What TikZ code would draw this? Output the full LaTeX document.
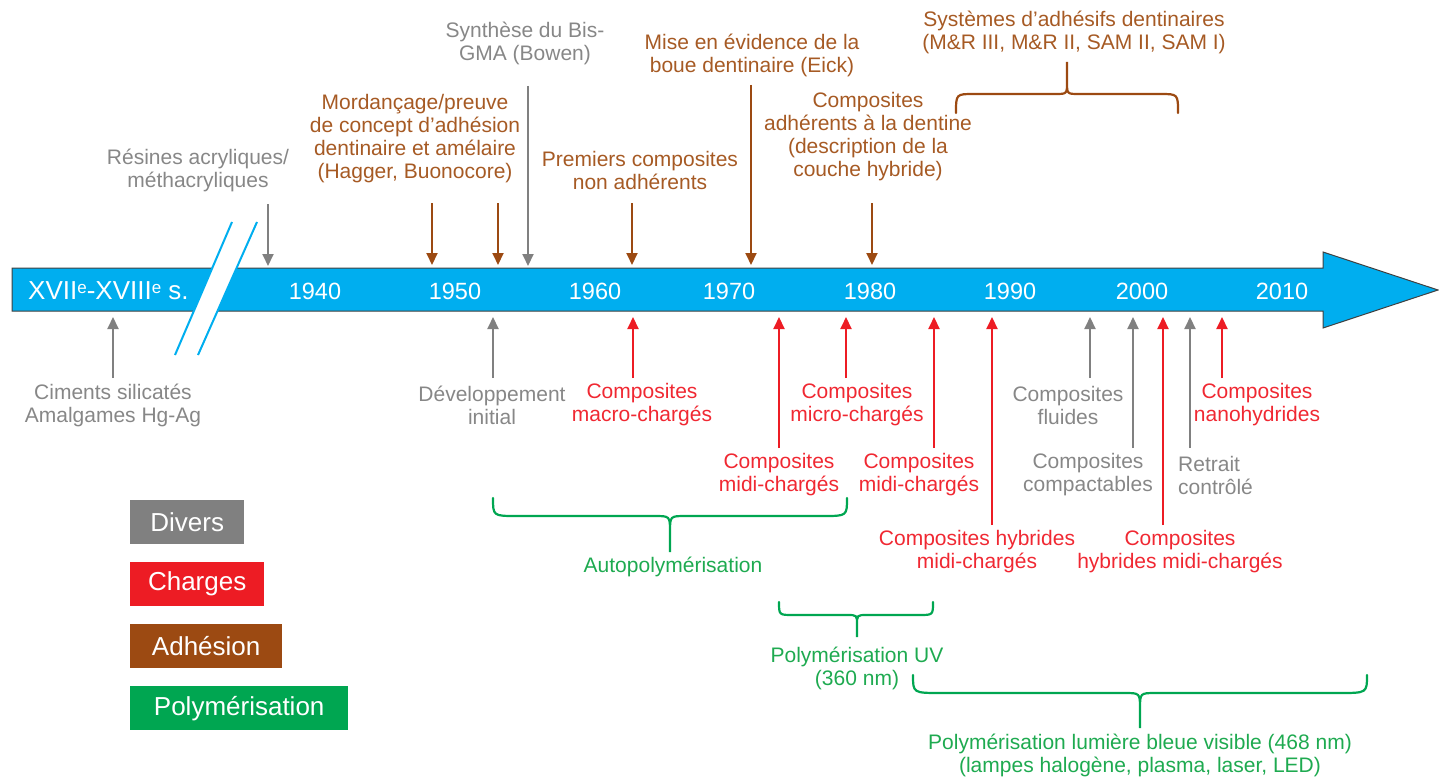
\documentclass[tikz,border=0pt]{standalone}
\usepackage{fontspec}
\setmainfont{Liberation Sans}
\usetikzlibrary{arrows.meta}
\definecolor{band}{RGB}{0,174,239}
\definecolor{cgray}{RGB}{128,128,128}
\definecolor{cred}{RGB}{237,28,36}
\definecolor{cbrown}{RGB}{156,74,18}
\definecolor{cgreen}{RGB}{0,166,81}
\definecolor{tgray}{RGB}{135,135,135}
\definecolor{tred}{RGB}{240,40,50}
\definecolor{tbrown}{RGB}{166,90,36}
\definecolor{tgreen}{RGB}{30,170,80}
\begin{document}
\begin{tikzpicture}[x=1pt,y=-1pt,
 lab/.style={font=\fontsize{21}{23}\selectfont, align=center, inner sep=0pt},
 yearlab/.style={font=\fontsize{23.5}{26}\selectfont, text=white, inner sep=0pt},
 arr/.style={line width=2pt, -{Triangle[length=12pt,width=11pt]}},
 bracepath/.style={line width=2.2pt, line cap=round},
 legbox/.style={font=\fontsize{26}{30}\selectfont, text=white, minimum height=44pt, inner sep=0pt, anchor=north west},
]
\useasboundingbox (0,0) rectangle (1439,778);

% timeline band
\draw[fill=band, draw=black!75, line width=1pt] (12,268) -- (1323,268) -- (1323,252) -- (1438,290) -- (1323,328) -- (1323,311) -- (12,311) -- cycle;
% break marks
\fill[white] (232,222) -- (257,222) -- (198,355) -- (175,355) -- cycle;
\draw[band, line width=2pt] (232,222) -- (175,355);
\draw[band, line width=2pt] (257,222) -- (198,355);

% years
\node[yearlab, anchor=west, font=\fontsize{26}{28}\selectfont] (yXVII) at (28,291) {XVII\raisebox{0.45ex}{\fontsize{17}{17}\selectfont e}-XVIII\raisebox{0.45ex}{\fontsize{17}{17}\selectfont e} s.};
\node[yearlab] (y1940) at (315,291) {1940};
\node[yearlab] (y1950) at (455,291) {1950};
\node[yearlab] (y1960) at (595,291) {1960};
\node[yearlab] (y1970) at (729,291) {1970};
\node[yearlab] (y1980) at (870,291) {1980};
\node[yearlab] (y1990) at (1010,291) {1990};
\node[yearlab] (y2000) at (1142,291) {2000};
\node[yearlab] (y2010) at (1282,291) {2010};

% top labels
\node[lab, text=tgray] (lResines) at (198,170) {Résines acryliques/\\méthacryliques};
\node[lab, text=tbrown] (lMord) at (415,139) {Mordançage/preuve\\de concept d’adhésion\\dentinaire et amélaire\\(Hagger, Buonocore)};
\node[lab, text=tgray] (lBis) at (525,43) {Synthèse du Bis-\\GMA (Bowen)};
\node[lab, text=tbrown] (lPrem) at (640,170) {Premiers composites\\non adhérents};
\node[lab, text=tbrown] (lEick) at (752,55) {Mise en évidence de la\\boue dentinaire (Eick)};
\node[lab, text=tbrown] (lAdh) at (868,137) {Composites\\adhérents à la dentine\\(description de la\\couche hybride)};
\node[lab, text=tbrown] (lSys) at (1074,32) {Systèmes d’adhésifs dentinaires\\(M\&R III, M\&R II, SAM II, SAM I)};

% top arrows
\coordinate (tsA) at (268,204); \coordinate (teA) at (268,266);
\coordinate (tsB) at (432,203); \coordinate (teB) at (432,265);
\coordinate (tsC) at (498,203); \coordinate (teC) at (498,265);
\coordinate (tsD) at (528,86);  \coordinate (teD) at (528,266);
\coordinate (tsE) at (632,203); \coordinate (teE) at (632,265);
\coordinate (tsF) at (751,85);  \coordinate (teF) at (751,265);
\coordinate (tsG) at (872,203); \coordinate (teG) at (872,265);
\draw[arr, cgray] (tsA) -- (teA);
\draw[arr, cbrown] (tsB) -- (teB);
\draw[arr, cbrown] (tsC) -- (teC);
\draw[arr, cgray] (tsD) -- (teD);
\draw[arr, cbrown] (tsE) -- (teE);
\draw[arr, cbrown] (tsF) -- (teF);
\draw[arr, cbrown] (tsG) -- (teG);

% brown brace
\draw[bracepath, cbrown] (956,113) .. controls (956,94) .. (974,94) -- (1055,94) .. controls (1067,94) .. (1067,82) -- (1067,62) -- (1067,82) .. controls (1067,94) .. (1079,94) -- (1160,94) .. controls (1178,94) .. (1178,113);

% bottom labels
\node[lab, text=tgray] (lCim) at (113,405) {Ciments silicatés\\Amalgames Hg-Ag};
\node[lab, text=tgray] (lDev) at (492,405) {Développement\\initial};
\node[lab, text=tred] (lMacro) at (642,405) {Composites\\macro-chargés};
\node[lab, text=tred] (lMicro) at (857,405) {Composites\\micro-chargés};
\node[lab, text=tred] (lMidiA) at (779,475) {Composites\\midi-chargés};
\node[lab, text=tred] (lMidiB) at (919,475) {Composites\\midi-chargés};
\node[lab, text=tred] (lHybA) at (977,552) {Composites hybrides\\midi-chargés};
\node[lab, text=tgray] (lFlu) at (1068,405) {Composites\\fluides};
\node[lab, text=tgray] (lComp) at (1088,475) {Composites\\compactables};
\node[lab, text=tgray, align=left, anchor=west] (lRet) at (1178,475) {Retrait\\contrôlé};
\node[lab, text=tred] (lNano) at (1257,405) {Composites\\nanohydrides};
\node[lab, text=tred] (lHybB) at (1180,552) {Composites\\hybrides midi-chargés};

% bottom arrows
\coordinate (bsA) at (113,378);  \coordinate (beA) at (113,317);
\coordinate (bsB) at (493,378);  \coordinate (beB) at (493,317);
\coordinate (bsC) at (633,378);  \coordinate (beC) at (633,317);
\coordinate (bsD) at (779,448);  \coordinate (beD) at (779,317);
\coordinate (bsE) at (846,378);  \coordinate (beE) at (846,317);
\coordinate (bsF) at (934,448);  \coordinate (beF) at (934,317);
\coordinate (bsG) at (992,525);  \coordinate (beG) at (992,317);
\coordinate (bsH) at (1090,378); \coordinate (beH) at (1090,317);
\coordinate (bsI) at (1133,448); \coordinate (beI) at (1133,317);
\coordinate (bsJ) at (1163,525); \coordinate (beJ) at (1163,317);
\coordinate (bsK) at (1190,448); \coordinate (beK) at (1190,317);
\coordinate (bsL) at (1222,378); \coordinate (beL) at (1222,317);
\draw[arr, cgray] (bsA) -- (beA);
\draw[arr, cgray] (bsB) -- (beB);
\draw[arr, cred] (bsC) -- (beC);
\draw[arr, cred] (bsD) -- (beD);
\draw[arr, cred] (bsE) -- (beE);
\draw[arr, cred] (bsF) -- (beF);
\draw[arr, cred] (bsG) -- (beG);
\draw[arr, cgray] (bsH) -- (beH);
\draw[arr, cgray] (bsI) -- (beI);
\draw[arr, cred] (bsJ) -- (beJ);
\draw[arr, cgray] (bsK) -- (beK);
\draw[arr, cred] (bsL) -- (beL);

% green braces
\draw[bracepath, cgreen] (493,498) .. controls (493,516) .. (517,516) -- (654,516) .. controls (670,516) .. (670,532) -- (670,552) -- (670,532) .. controls (670,516) .. (686,516) -- (823,516) .. controls (847,516) .. (847,498);
\draw[bracepath, cgreen] (779,602) .. controls (779,615) .. (793,615) -- (847,615) .. controls (857,615) .. (857,625) -- (857,637) -- (857,625) .. controls (857,615) .. (867,615) -- (919,615) .. controls (933,615) .. (933,602);
\draw[bracepath, cgreen] (913,675) .. controls (913,693) .. (941,693) -- (1124,693) .. controls (1140,693) .. (1140,709) -- (1140,728) -- (1140,709) .. controls (1140,693) .. (1156,693) -- (1339,693) .. controls (1367,693) .. (1367,675);

\node[lab, text=tgreen] (lAuto) at (673,567) {Autopolymérisation};
\node[lab, text=tgreen] (lUV) at (857,668) {Polymérisation UV\\(360 nm)};
\node[lab, text=tgreen] (lBlue) at (1140,755) {Polymérisation lumière bleue visible (468 nm)\\(lampes halogène, plasma, laser, LED)};

% legend
\node[legbox, fill=cgray, minimum width=114pt] (legDiv) at (130,500) {Divers};
\node[legbox, fill=cred, minimum width=134pt] (legCha) at (130,562) {Charges};
\node[legbox, fill=cbrown, minimum width=152pt] (legAdh) at (130,624) {Adhésion};
\node[legbox, fill=cgreen, minimum width=218pt] (legPol) at (130,686) {Polymérisation};
\end{tikzpicture}
\end{document}
